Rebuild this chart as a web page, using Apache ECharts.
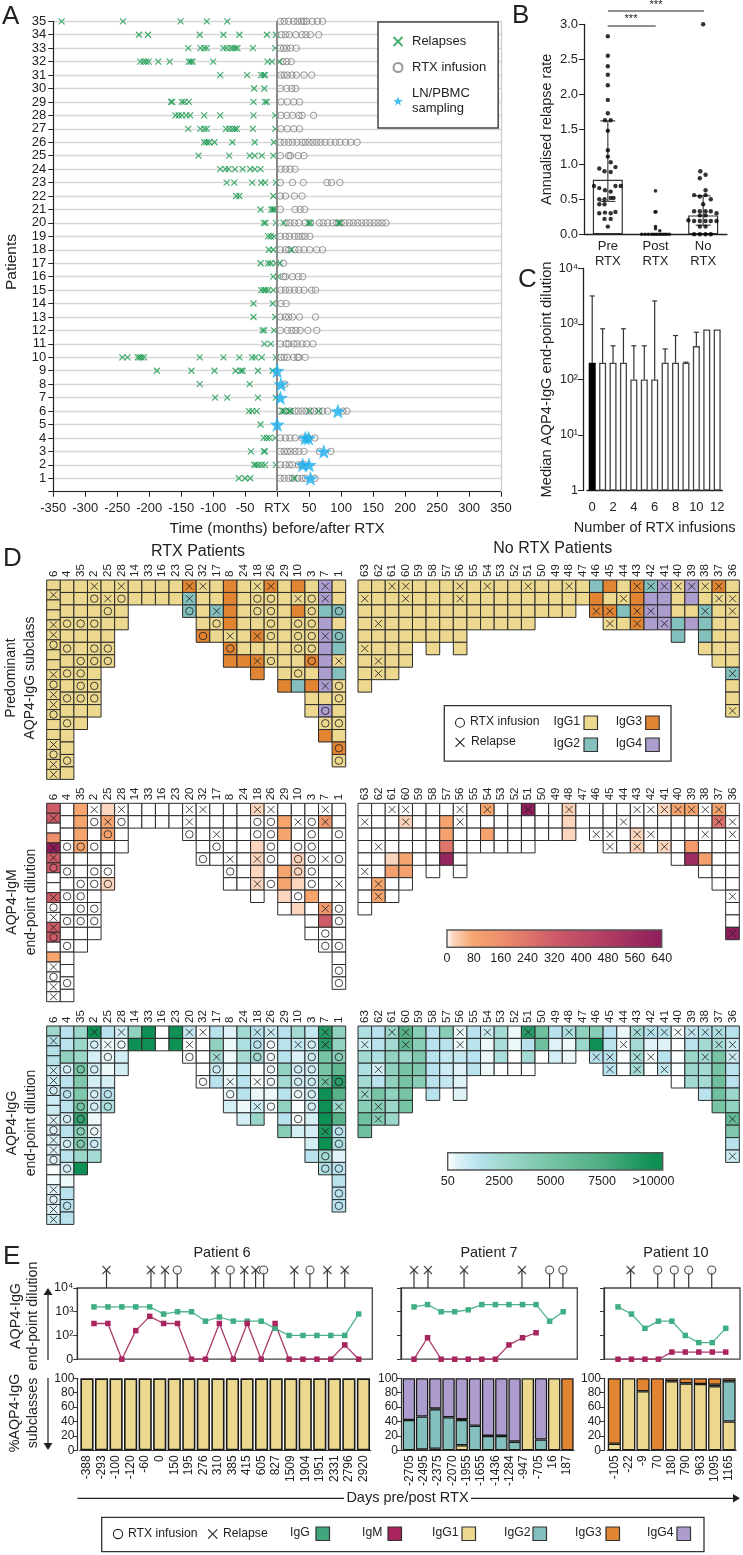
<!DOCTYPE html>
<html><head><meta charset="utf-8"><style>html,body{margin:0;padding:0;background:#fff}#c{width:743px;height:1555px}</style>
<script src="https://cdn.jsdelivr.net/npm/echarts@6/dist/echarts.min.js"></script></head><body><div id="c"></div>
<script>
// ---------- Panel A: patients 35 down to 1 ----------
const relapseMonths = [
[-337,-241,-151,-110,-78],[-216,-202,-121,-84,-59,-16,-2],[-139,-120,-114,-110,-84,-79,-73,-69,-65,-62,-38,-3],
[-214,-209,-205,-201,-186,-168,-138,-135,-132,-100,-15,-8,4],[-89,-47,-25,-21,-19],[-36,-20],
[-166,-164,-149,-145,-138,-37,-19,-16],[-159,-154,-149,-142,-136,-114,-89,-37,-3],[-139,-120,-114,-110,-80,-75,-70,-66,-63,-38,-3],
[-114,-110,-106,-98,-70,-35,-5],[-123,-75,-43,-35,-24,-6],[-89,-81,-76,-66,-54,-42,-35,-26],[-79,-67,-39,-25,-19,-2],
[-64,-59,-6],[-26,-9,-6,-4],[-21,-18,-2,10,49,52,96,98],[-14,-10,-5],[-13,-6,22],[-26,-14,-10,-2,4],[-6,1],
[-25,-21,-18,-14,-6],[-37,-7],[-37,-3],[-23,-20,-5],[-20,-10],[-242,-234,-218,-215,-212,-208,-121,-84,-59,-39,-34,-24,-2],
[-188,-134,-98,-65,-57,-54,-30,-7],[-121,-43],[-97,-78,-30,-2],[-44,-39,-32,8,11,19,21,50,65],[-26],[-21,-16,-12,-3],
[-41,-21,-19],[-36,-33,-29,-24,-19,-2],[-60,-50,-42,27]];
const infusionMonths = [
[5,11,18,26,32,38,42,46,55,63,71],[7,13,19,29,39,45,52,65],[5,10,15,21,30],[9,15,22],[6,11,16,23,30,42,54],[5,15,23,29],
[6,16,26,35],[6,15,24,34,39,57],[6,16,26,35],[5,11,18,24,31,39,44,50,56,62,68,75,83,91,98,107,115,125],[5,18,21,33,42],[6,13,20,28],
[5,24,41,78,85,98],[5,13,27,39],[5,28,36,43],[14,20,27,34,44,52,66,72,79,87,93,100,106,113,119,126,132,139,145,152,158,164,170],
[5,13,19,27,33,39,44,51],[5,13,18,28,34,42,51,62,71],[10],[10,13,24,33,40],[6,13,19,27,34,42,54,60],[6,14],[5,13,18,24,35,60],
[5,16,23,29,36,48,62],[5,14,18,26,31,39,46,56],[6,11,16,26,32,34,44],[],[12],[],
[4,13,20,28,33,39,45,52,58,65,71,79,103,109],[],[5,13,20,28,39,49,59],[5,11,16,21,28,34,42,66,84],[5,13,19,24,33,38,44],[5,11,18,24,32,39,44,59]];
const samplingPoints = [[0,9],[6,8],[5,7],[95,6],[0,5],[44,4],[49,4],[73,3],[40,2],[50,2],[52,1]];
// ---------- Panel B ----------
const groupLabels = ['Pre\nRTX','Post\nRTX','No\nRTX'];
const groupMeans = [0.78,0,0.27];
const groupErrors = [[0,0.47,1.62],[2,0.13,0.55]];
const preDots = [[0,2.83],[0,2.55],[0,2.40],[0,2.28],[0,2.13],[0,1.92],[0,1.73],[-.06,1.63],[.06,1.63],[0,1.48],[0,1.20],[0,1.11],[.06,1.03],[.16,.96],[-.18,.94],[-.07,.90],[.06,.89],[-.29,.69],[-.18,.66],[-.06,.63],[.06,.61],[.16,.69],[.27,.69],[-.18,.50],[-.07,.50],[.06,.52],[.12,.52],[-.18,.43],[-.07,.43],[-.18,.30],[-.06,.31],[.06,.30],[.16,.32],[-.07,.22],[.06,.22],[0,.11]];
const postDots = [[-.29,0],[-.22,0],[-.15,0],[-.08,0],[-.03,0],[.02,0],[.08,0],[.13,0],[.18,0],[.23,0],[.29,0],[0,.62],[-.01,.32],[.01,.32],[0,.11],[0,.08],[.09,.05]];
const noDots = [[0,3],[-.06,.90],[.05,.85],[-.07,.80],[.05,.63],[-.19,.56],[-.07,.54],[.05,.56],[.16,.50],[0,.43],[-.19,.33],[-.07,.33],[.05,.33],[.16,.33],[.28,.30],[-.07,.27],[.05,.27],[-.31,.20],[-.19,.19],[-.07,.19],[.05,.19],[.16,.19],[.28,.19],[-.07,.11],[.05,.11],[-.19,0],[-.07,0],[.05,0],[.16,0]];
// ---------- Panel C ----------
const infusionCounts = ['0','1','2','3','4','5','6','7','8','9','10','11','12'];
const medianDilution = [200,200,200,200,100,100,100,200,200,200,400,800,800];
const dilutionErrorTop = [3200,820,405,820,405,405,2600,355,620,205,710,null,null];
// ---------- Panel D ----------
const rtxPatients = ['6','4','35','2','25','28','14','33','16','23','20','32','17','8','24','18','26','29','10','3','7','1'];
const noRtxPatients = ['63','62','61','60','59','58','57','56','55','54','53','52','51','50','49','48','47','46','45','44','43','42','41','40','39','38','37','36'];
const rtxMarks = ['.x..xxo..xoxxo..xoxx','...o.o.o.o.o..o.','...o..oooo..','xo.o.oo.oo.','.xo..oo','xo..','..','..','..','..','xxo','x...o','..xo.','....xo.','.......','xoo.x.x.','xoooo.o','.........','.x.ooo.o.','.oooooo....','xx..x...x.oo.','..o.o.x.oo.o.oo'];
const noRtxMarks = ['.x...x...','...x..xx','x.......','xx.....','.....','......','.....','xx....','....','x...','....','....','x...','...','...','x..','..','..x','..xx','.x..','x.xx','x.x.','x..x','x....','x....','x.x...','xx.....','.xx....x..x'];
const n1 = (k)=>Array(k).fill(1);
const subclassRtx = [n1(20),n1(16),n1(12),n1(11),n1(7),n1(4),n1(2),n1(2),n1(2),n1(2),[3,2,2],[1,1,1,1,3],[1,1,2,1,1],[3,3,3,3,1,3,3],[1,1,1,1,1,1,3],[1,1,1,1,3,1,3,3],[3,1,1,1,1,1,1],[1,1,1,1,1,1,1,1,3],[3,1,3,1,1,1,1,1,2],[1,1,1,1,1,1,3,1,3,1,1],[4,4,2,4,4,4,4,4,4,1,4,1,3],[1,1,2,1,2,2,1,2,1,1,1,1,1,3,1]];
const subclassNoRtx = [n1(9),n1(8),n1(8),n1(7),n1(5),n1(6),n1(5),n1(6),n1(4),n1(4),n1(4),n1(4),n1(4),n1(3),n1(3),n1(3),n1(2),[2,3,3],[3,1,3,1],[1,1,2,1],[3,3,3,3],[2,4,4,4],[4,4,4,4],[1,1,1,2,2],[4,4,1,4],[1,1,2,2,2,1],[3,1,1,1,1,1,1],[1,1,1,1,1,1,1,2,1,1,1]];
const z = (k)=>Array(k).fill(0);
const igmRtx = [[320,320,0,160,640,320,320,0,0,320,0,0,320,320,0,80,0,0,0,0],z(16),[80,80,80,80,0,0,0,0,0,0,0,0],z(11),[20,80,90,0,0,0,20],z(4),z(2),z(2),z(2),z(2),z(3),z(5),z(5),z(7),z(7),[20,0,0,20,20,20,20,0],z(7),[0,80,80,0,0,80,80,20,0],[0,0,0,0,20,20,20,0,20],[0,0,0,0,0,0,0,80,0,0,0],[0,120,0,0,0,0,0,0,130,320,0,0],z(15)];
const igmNoRtx = [z(9),[0,0,0,0,0,0,80,80],[0,0,0,0,20,100,0,0],[0,20,0,0,80,100,0],z(5),z(6),[0,80,90,240,600],z(6),z(4),[80,0,90,0],z(4),z(4),[640,0,0,0],z(3),z(3),[25,20,20],z(2),z(3),z(4),z(4),[0,0,20,25],z(4),[20,0,0,20],[80,0,0,0,0],[80,0,0,120,560],[0,0,0,0,100,0],[80,250,0,0,0,0,0],[0,0,0,0,0,0,0,0,0,0,640]];
const iggRtx = [[2800,1800,1800,1800,1000,1000,1000,1000,1000,500,500,500,500,500,100,200,500,500,500,1000],[1500,1500,3500,800,1500,1500,1500,800,1500,800,1500,800,300,1500,1500,1500],[3000,3000,3000,5000,4500,4500,5000,8500,4000,4500,3000,10000],[10000,800,800,800,800,800,800,300,300,1000,2500],[1500,300,300,300,800,1500,2000],[800,300,800,800],[3500,10000],[10000,10000],[50,50],[10000,10000],[1200,50,50],[50,50,50,50,50],[1500,3500,2500,1000,1500],[500,300,300,300,300,300,800],[2500,2000,2500,1200,1500,1500,300,800],[1500,1500,2500,100,100,300,1000,3000],[1000,200,200,200,200,300,200],[1500,1500,1500,3500,2500,1500,3500,1500,4000],[2500,1200,600,800,800,300,100,100,800],[1200,800,1000,800,1000,800,800,800,800,800,1500],[9000,9000,5000,5000,5500,10000,10000,10000,9500,10000,2500,2000],[3500,3500,4000,6500,9000,7000,3000,7000,1500,2000,500,1500,1500,1500,1500]];
const iggNoRtx = [[2000,1000,2500,2000,2500,3000,4000,5500,5500],[1500,1500,2000,800,1500,5000,4000,4000],[3000,2500,3500,3500,3500,3500,3000,3000],[7000,6500,3000,5000,5000,5000,5000],[4000,4000,4500,4500,4000],[1500,1500,1500,1500,1500,1500],[4000,1500,1200,1000,1200],[300,300,1200,500,500,500],[1500,1500,1500,1500],[1000,300,300,300],[2500,2200,2200,50],[300,300,50,50],[9000,1500,2500,50],[5500,5500,50],[1500,500,800],[2000,300,300],[3500,3000],[4000,10000,1500],[1500,1500,1500,1500],[300,100,100,100],[2500,2500,2500,2500],[1500,500,100,100],[1500,500,1500,1200],[100,50,100,100,50],[1200,1500,3000,3000,2500],[1500,2500,2500,2500,2500,1500],[2000,2500,5000,5000,5500,5500,5000],[1500,1000,1000,1500,1500,3000,3500,6000,4500,1500,1000]];
const igmStops = [[0,'#ffffff'],[20,'#fbd5bd'],[80,'#f6a56f'],[160,'#ee8f6c'],[320,'#cd5b68'],[640,'#8f1d5c']];
const iggStops = [[50,'#ffffff'],[500,'#dff2f8'],[1500,'#b8e3ee'],[2500,'#a3dad3'],[5000,'#76c4a4'],[7500,'#4fae84'],[10000,'#0e8f53']];
const igmBarTicks = 80, iggBarTicks = 2500;
// ---------- Panel E ----------
const p6Days = ['-388','-293','-100','-120','-60','0','150','195','276','310','385','415','605','827','1509','1904','1951','2331','2796','2920'];
const p6IgG = [1600,1600,1600,1600,1600,800,1000,1000,400,600,400,400,400,200,100,100,100,100,100,800];
const p6IgM = [320,320,0,160,640,320,320,0,0,320,0,320,0,320,0,0,0,0,40,0];
const p6Relapse = [0.9,4.09,5.1,8.7,10.79,11.6,14.38,16.75,18];
const p6Rtx = [5.98,9.78,12.18,15.5];
const p7Days = ['-2705','-2495','-2375','-2070','-1955','-1655','-1436','-1284','-947','-705','16','187'];
const p7IgG = [1600,2000,1000,1000,1200,2000,2000,2000,2000,2000,400,1000];
const p7IgM = [0,80,0,0,0,0,0,40,80,130,null,null];
const p7Relapse = [0,1.03,3.69,7.96];
const p7Rtx = [10,10.98];
const p7G1 = [0,1,2,0,7,0,0,0,0,100,0,100,0];
const p7G2 = [42,46,55,46,35,34,20,20,12,0,15,0,0];
const p7G3 = [0,0,1,0,1,0,0,0,0,0,0,0,100];
const p7G4 = [58,53,42,54,57,66,80,80,88,0,85,0,0];
const p10Days = ['-105','-22','-9','70','180','790','963','1095','1165'];
const p10IgG = [1600,800,200,400,400,100,50,50,200];
const p10IgM = [0,0,0,0,20,20,20,20,20];
const p10Relapse = [0.94];
const p10Rtx = [2.95,4.18,5.25,6.96];
const p10G1 = [9,100,82,0,96,93,92,89,40];
const p10G2 = [0,0,0,0,0,0,0,2,56];
const p10G3 = [91,0,18,100,4,7,8,9,4];
const p10G4 = [0,0,0,0,0,0,0,0,0];
const p6G1 = Array(20).fill(100);

// ---------- helpers ----------
const FONT='Liberation Sans', INK='#222';
const SUB={1:'#ecd98f',2:'#84c0bd',3:'#e28533',4:'#ad9dcf'};
const XP='path://M0,0L10,10M10,0L0,10';
const STAR='path://M12,0L15,8.5L24,9L17,14.5L19.5,23L12,18L4.5,23L7,14.5L0,9L9,8.5Z';
const G=[],X=[],Y=[],S=[],GR=[];
function grid(l,t,w,h,extra){G.push(Object.assign({left:l,top:t,width:w,height:h},extra||{}));return G.length-1;}
function xa(o){X.push(o);return X.length-1;}
function ya(o){Y.push(o);return Y.length-1;}
const labelBase=(s)=>({color:INK,fontSize:s,fontFamily:FONT});
function colorAt(stops,v){
  if(v<=stops[0][0])return stops[0][1];
  for(let i=1;i<stops.length;i++){if(v<=stops[i][0]){
    return echarts.color.lerp((v-stops[i-1][0])/(stops[i][0]-stops[i-1][0]),[stops[i-1][1],stops[i][1]]);}}
  return stops[stops.length-1][1];
}
function txt(x,y,t,size,o){o=o||{};GR.push({type:'text',x,y,rotation:o.rot?Math.PI/2:0,z:100,style:{text:t,fontSize:size,fontFamily:FONT,fill:INK,textAlign:o.align||'center',textVerticalAlign:'middle'}});}
function ln(x1,y1,x2,y2,w,c){GR.push({type:'line',z:100,shape:{x1,y1,x2,y2},style:{stroke:c||'#222',lineWidth:w||1.2}});}
function box(x,y,w,h,fill,stroke,lw){GR.push({type:'rect',z:100,shape:{x,y,width:w,height:h},style:{fill:fill||'transparent',stroke:stroke||'#333',lineWidth:lw||1.5}});}
function ringIcon(x,y,r){GR.push({type:'circle',z:100,shape:{cx:x,cy:y,r},style:{fill:'transparent',stroke:'#222',lineWidth:1.1}});}
function crossIcon(x,y,r){ln(x-r,y-r,x+r,y+r,1.1);ln(x-r,y+r,x+r,y-r,1.1);}
function head(x,y,up){GR.push({type:'polygon',z:100,shape:{points:up?[[x,y],[x-4.5,y+7],[x+4.5,y+7]]:[[x,y],[x-4.5,y-7],[x+4.5,y-7]]},style:{fill:'#222'}});}

// ---------- Panel A ----------
(function(){
  const g=grid(53.3,21.3,447.7,470.4);
  const x=xa({gridIndex:g,type:'value',min:-350,max:350,interval:50,splitLine:{show:false},axisLine:{onZero:false,lineStyle:{color:'#222',width:1.2}},axisTick:{length:5,lineStyle:{color:'#222'}},
    axisLabel:Object.assign(labelBase(13),{margin:10,hideOverlap:false,formatter:v=>v===0?'RTX':v}),
    name:'Time (months) before/after RTX',nameLocation:'middle',nameGap:30,nameTextStyle:labelBase(15.3)});
  const y=ya({gridIndex:g,type:'value',min:0,max:35,interval:1,splitLine:{show:true,lineStyle:{color:'#d6d6d6',width:1.4}},axisLine:{onZero:false,lineStyle:{color:'#222',width:1.2}},axisTick:{length:5,lineStyle:{color:'#222'}},
    axisLabel:Object.assign(labelBase(13),{margin:7,formatter:v=>v===0?'':v})});
  txt(12,262,'Patients',15.5,{rot:1});
  const toPts=(rows)=>rows.flatMap((r,i)=>r.map(m=>[m,35-i]));
  S.push({name:'RTX infusion',type:'scatter',xAxisIndex:x,yAxisIndex:y,data:toPts(infusionMonths),symbol:'circle',symbolSize:6.5,z:3,itemStyle:{color:'rgba(255,255,255,0)',borderColor:'#808080',borderWidth:1},
    markLine:{silent:true,symbol:'none',animation:false,label:{show:false},data:[{xAxis:0,lineStyle:{color:'#8a8a8a',width:2,type:'solid'}},{xAxis:350,lineStyle:{color:'#d0d0d0',width:1.4,type:'solid'}}]}});
  S.push({name:'Relapses',type:'scatter',xAxisIndex:x,yAxisIndex:y,data:toPts(relapseMonths),symbol:XP,symbolSize:6,z:4,itemStyle:{color:'none',borderColor:'#179a4e',borderWidth:1.2}});
  S.push({name:'LN/PBMC\nsampling',type:'scatter',xAxisIndex:x,yAxisIndex:y,data:samplingPoints,symbol:STAR,symbolSize:15,z:5,itemStyle:{color:'#1ab0ee'}});
})();

// ---------- Panel B ----------
(function(){
  const g=grid(584,24.3,143,210);
  const x=xa({gridIndex:g,type:'category',data:groupLabels,axisLine:{onZero:false,lineStyle:{color:'#222',width:1.3}},axisTick:{show:false},axisLabel:Object.assign(labelBase(13),{margin:5,lineHeight:15,interval:0})});
  const x2=xa({gridIndex:g,type:'value',min:-0.5,max:2.5,show:false});
  const y=ya({gridIndex:g,type:'value',min:0,max:3,interval:0.5,splitLine:{show:false},axisLine:{show:true,onZero:false,lineStyle:{color:'#222',width:1.3}},axisTick:{show:true,length:5,lineStyle:{color:'#222'}},
    axisLabel:Object.assign(labelBase(13),{margin:6,formatter:v=>v.toFixed(1)}),name:'Annualised relapse rate',nameLocation:'middle',nameGap:30,nameRotate:90,nameTextStyle:labelBase(14.4)});
  S.push({type:'bar',xAxisIndex:x,yAxisIndex:y,data:groupMeans,barWidth:30,itemStyle:{color:'#fff',borderColor:'#333',borderWidth:1.2},z:2});
  S.push({type:'custom',xAxisIndex:x,yAxisIndex:y,data:groupErrors,encode:{x:0,y:[1,2]},z:3,renderItem:(p,api)=>{
    const a=api.coord([api.value(0),api.value(1)]),b=api.coord([api.value(0),api.value(2)]),st={stroke:'#444',lineWidth:1.2};
    return {type:'group',children:[{type:'line',shape:{x1:a[0],y1:a[1],x2:b[0],y2:b[1]},style:st},{type:'line',shape:{x1:a[0]-7.5,y1:a[1],x2:a[0]+7.5,y2:a[1]},style:st},{type:'line',shape:{x1:b[0]-7.5,y1:b[1],x2:b[0]+7.5,y2:b[1]},style:st}]};}});
  [[preDots,0,4.4],[postDots,1,3.6],[noDots,2,4.4]].forEach(([d,c,s])=>{
    S.push({type:'scatter',xAxisIndex:x2,yAxisIndex:y,data:d.map(p=>[c+p[0],p[1]]),symbolSize:s,clip:false,z:4,itemStyle:{color:'#000'}});});
  ln(607.7,26,655.7,26,1); ln(608,11,704,11,1);
  txt(631,19,'***',11); txt(656,4.5,'***',11);
})();

// ---------- Panel C ----------
(function(){
  const g=grid(587,268.5,135.4,222);
  const x=xa({gridIndex:g,type:'category',data:infusionCounts,axisLine:{onZero:false,lineStyle:{color:'#222',width:1.3}},axisTick:{alignWithLabel:true,length:4,lineStyle:{color:'#222'}},
    axisLabel:Object.assign(labelBase(13),{margin:10,interval:1}),name:'Number of RTX infusions',nameLocation:'middle',nameGap:30,nameTextStyle:labelBase(14.5)});
  const y=ya({gridIndex:g,type:'log',logBase:10,min:1,max:10000,offset:4,splitLine:{show:false},axisLine:{show:true,onZero:false,lineStyle:{color:'#222',width:1.3}},axisTick:{show:true,length:5,lineStyle:{color:'#222'}},minorTick:{show:false},
    axisLabel:Object.assign(labelBase(12.5),{margin:5,formatter:v=>({1:'1',10:'10¹',100:'10²',1000:'10³',10000:'10⁴'})[v]}),name:'Median AQP4-IgG end-point dilution',nameLocation:'middle',nameGap:29,nameRotate:90,nameTextStyle:labelBase(14.7)});
  S.push({type:'bar',xAxisIndex:x,yAxisIndex:y,data:medianDilution.map((v,i)=>i===0?{value:v,itemStyle:{color:'#000',borderColor:'#000'}}:v),barWidth:7,itemStyle:{color:'#fff',borderColor:'#444',borderWidth:1.3},z:3});
  S.push({type:'custom',xAxisIndex:x,yAxisIndex:y,data:dilutionErrorTop.map((v,i)=>v?[i,medianDilution[i],v]:null).filter(Boolean),encode:{x:0,y:[1,2]},z:2,renderItem:(p,api)=>{
    const a=api.coord([api.value(0),api.value(1)]),b=api.coord([api.value(0),api.value(2)]),st={stroke:'#333',lineWidth:1.2};
    return {type:'group',children:[{type:'line',shape:{x1:a[0],y1:a[1],x2:b[0],y2:b[1]},style:st},{type:'line',shape:{x1:b[0]-2.5,y1:b[1],x2:b[0]+2.5,y2:b[1]},style:st}]};}});
})();

// ---------- Panel D ----------
const ROWS=16;
function heat(left,top,width,rowH,names,values,marks,fillOf){
  const g=grid(left,top,width,rowH*ROWS);
  const x=xa({gridIndex:g,type:'category',position:'top',data:names,axisLine:{show:false},axisTick:{show:false},axisLabel:Object.assign(labelBase(11.5),{rotate:90,margin:3,interval:0})});
  const y=ya({gridIndex:g,type:'value',min:0,max:ROWS,inverse:true,show:false});
  const cells=[],rtx=[],rel=[];
  values.forEach((col,c)=>{const h=Math.min(1,ROWS/col.length);
    col.forEach((v,r)=>cells.push([c,r*h,(r+1)*h,v]));
    (marks[c]||'').split('').forEach((m,r)=>{if(m==='o')rtx.push([c,(r+.5)*h]);if(m==='x')rel.push([c,(r+.5)*h]);});});
  S.push({type:'custom',xAxisIndex:x,yAxisIndex:y,data:cells,encode:{x:0,y:[1,2]},z:2,renderItem:(p,api)=>{
    const a=api.coord([api.value(0),api.value(1)]),b=api.coord([api.value(0),api.value(2)]),w=api.size([1,0])[0];
    return {type:'rect',shape:{x:a[0]-w/2,y:a[1],width:w,height:b[1]-a[1]},style:{fill:fillOf(api.value(3)),stroke:'#2b2b2b',lineWidth:1}};}});
  S.push({type:'scatter',xAxisIndex:x,yAxisIndex:y,data:rtx,symbol:'circle',symbolSize:7.5,z:4,itemStyle:{color:'none',borderColor:'#1c1c1c',borderWidth:1}});
  S.push({type:'scatter',xAxisIndex:x,yAxisIndex:y,data:rel,symbol:XP,symbolSize:7,z:4,itemStyle:{color:'none',borderColor:'#1c1c1c',borderWidth:1}});
}
const L=46.7,LW=299,R=358,RW=381.3;
heat(L,580,LW,12.46,rtxPatients,subclassRtx,rtxMarks,v=>SUB[v]);
heat(R,580,RW,12.46,noRtxPatients,subclassNoRtx,noRtxMarks,v=>SUB[v]);
heat(L,803.3,LW,12.4,rtxPatients,igmRtx,rtxMarks,v=>colorAt(igmStops,v));
heat(R,803.3,RW,12.4,noRtxPatients,igmNoRtx,noRtxMarks,v=>colorAt(igmStops,v));
heat(L,1026,LW,12.4,rtxPatients,iggRtx,rtxMarks,v=>colorAt(iggStops,v));
heat(R,1026,RW,12.4,noRtxPatients,iggNoRtx,noRtxMarks,v=>colorAt(iggStops,v));
function colorbar(l,t,w,h,maxV,step,stops,fmt,toX){
  const g=grid(l,t,w,h);
  const tick={show:true,inside:true,length:4,lineStyle:{color:'#222'}};
  const x=xa({gridIndex:g,type:'value',min:0,max:maxV,interval:step,splitLine:{show:false},axisLine:{show:false},axisTick:tick,axisLabel:Object.assign(labelBase(12.5),{margin:5,formatter:fmt,showMaxLabel:maxV%step===0,hideOverlap:false})});
  xa({gridIndex:g,type:'value',position:'top',min:0,max:maxV,interval:step,splitLine:{show:false},axisLine:{show:false},axisTick:tick,axisLabel:{show:false}});
  const y=ya({gridIndex:g,type:'value',min:0,max:1,show:false});
  S.push({type:'custom',xAxisIndex:x,yAxisIndex:y,data:[[0,maxV]],encode:{x:[0,1]},z:1,renderItem:(p,api)=>{
    const a=api.coord([0,1]),b=api.coord([maxV,0]);
    return {type:'rect',shape:{x:a[0],y:a[1],width:b[0]-a[0],height:b[1]-a[1]},style:{stroke:'#555',lineWidth:1.4,fill:new echarts.graphic.LinearGradient(0,0,1,0,stops.map(s=>({offset:toX(s[0]),color:s[1]})))}};}});
}
colorbar(447,930,214.7,17.3,640,igmBarTicks,igmStops,v=>String(v),v=>v/640);
colorbar(447.7,1152.7,215,17.3,10450,iggBarTicks,iggStops,v=>v===0?'50':v===10000?'>10000':String(v),v=>v/10450);
txt(198,551.7,'RTX Patients',16); txt(552.7,549,'No RTX Patients',16);
txt(11,678,'Predominant',14,{rot:1}); txt(30,678,'AQP4-IgG subclass',14,{rot:1});
txt(12,902,'AQP4-IgM',14,{rot:1}); txt(31,902,'end-point dilution',14,{rot:1});
txt(12,1123,'AQP4-IgG',14,{rot:1}); txt(31,1123,'end-point dilution',14,{rot:1});
box(444.3,705.7,226.7,55.5,'#fff','#333',1.3);
ringIcon(460,722.7,4.5); txt(470,722,'RTX infusion',12.2,{align:'left'});
crossIcon(460,742.3,4.5); txt(471,742,'Relapse',12.2,{align:'left'});
txt(553.5,722,'IgG1',12.2,{align:'left'}); box(584,716,13.5,13.5,SUB[1],'#333',1.2);
txt(553.5,744,'IgG2',12.2,{align:'left'}); box(584,738,13.5,13.5,SUB[2],'#333',1.2);
txt(615.7,722,'IgG3',12.2,{align:'left'}); box(645.7,716,13.5,13.5,SUB[3],'#333',1.2);
txt(615.7,744,'IgG4',12.2,{align:'left'}); box(645.7,738,13.5,13.5,SUB[4],'#333',1.2);

// ---------- Panel E ----------
const toLevel=v=>v==null?null:(v<=0?0:Math.log10(v)-1);
function patient(o){
  const gs=grid(o.left,1270,o.w,17.9);
  const xs=xa({gridIndex:gs,type:'value',min:o.xmin,max:o.xmax,show:false});
  const ys=ya({gridIndex:gs,type:'value',min:0,max:1,show:false});
  S.push({type:'custom',xAxisIndex:xs,yAxisIndex:ys,data:o.rel.concat(o.rtx).map(v=>[v,0,1]),encode:{x:0,y:[1,2]},z:2,renderItem:(p,api)=>{
    const a=api.coord([api.value(0),0]),b=api.coord([api.value(0),1]);
    return {type:'line',shape:{x1:a[0],y1:a[1],x2:b[0],y2:b[1]},style:{stroke:'#333',lineWidth:1.2}};}});
  S.push({type:'scatter',xAxisIndex:xs,yAxisIndex:ys,clip:false,data:o.rel.map(v=>[v,1]),symbol:XP,symbolSize:8,z:3,itemStyle:{color:'none',borderColor:'#1c1c1c',borderWidth:1.1}});
  S.push({type:'scatter',xAxisIndex:xs,yAxisIndex:ys,clip:false,data:o.rtx.map(v=>[v,1]),symbol:'circle',symbolSize:8,z:3,itemStyle:{color:'#fff',borderColor:'#1c1c1c',borderWidth:1.1}});
  const g=grid(o.left,1288,o.w,71.2,{show:true,borderColor:'#444',borderWidth:1.3,backgroundColor:'transparent'});
  const x=xa({gridIndex:g,type:'value',min:o.xmin,max:o.xmax,show:false});
  const y=ya({gridIndex:g,type:'value',min:0,max:3,interval:1,splitLine:{show:false},axisLine:{show:true,onZero:false,lineStyle:{color:'#333',width:1.2}},axisTick:{show:true,length:4,lineStyle:{color:'#333'}},
    axisLabel:Object.assign(labelBase(12.5),{show:o.showY,margin:4,formatter:v=>['0','10²','10³','10⁴'][v]})});
  S.push({type:'line',xAxisIndex:x,yAxisIndex:y,data:o.igg.map((v,i)=>[i,toLevel(v)]),symbol:'rect',symbolSize:5.5,clip:false,lineStyle:{color:'#4fb48b',width:1.3},itemStyle:{color:'#3fae82'},z:3});
  S.push({type:'line',xAxisIndex:x,yAxisIndex:y,data:o.igm.map((v,i)=>[i,toLevel(v)]),symbol:'rect',symbolSize:5.5,clip:false,connectNulls:false,lineStyle:{color:'#ab3a6b',width:1.3},itemStyle:{color:'#a8255f'},z:3});
  const gb=grid(o.barLeft,1378.3,o.barW,72);
  const bandsSame=o.bars[0].length===o.days.length;
  const xb=xa({gridIndex:gb,type:'category',data:o.days,axisLine:{onZero:false,lineStyle:{color:'#333',width:1.2}},axisTick:{alignWithLabel:true,length:4,lineStyle:{color:'#333'}},axisLabel:Object.assign(labelBase(12),{rotate:90,margin:5,interval:0})});
  const xh=bandsSame?xb:xa({gridIndex:gb,type:'category',data:o.bars[0].map((_,i)=>String(i)),show:false});
  const yb=ya({gridIndex:gb,type:'value',min:0,max:100,interval:20,offset:o.yOffset,splitLine:{show:false},axisLine:{show:true,onZero:false,lineStyle:{color:'#333',width:1.2}},axisTick:{show:true,length:4,lineStyle:{color:'#333'}},axisLabel:Object.assign(labelBase(12),{margin:3})});
  o.bars.forEach((vals,k)=>{
    S.push({type:'bar',stack:'sub'+gb,xAxisIndex:xh,yAxisIndex:yb,data:vals.map(v=>v||null),barWidth:o.barPx,itemStyle:{color:SUB[k+1],borderColor:'#1a1a1a',borderWidth:o.barEdge},z:2});});
}
patient({left:77.3,w:295,xmin:-1.196,xmax:19.976,igg:p6IgG,igm:p6IgM,rel:p6Relapse,rtx:p6Rtx,showY:true,barLeft:79.7,barW:291,days:p6Days,bars:[p6G1],barPx:13.2,barEdge:1.6,yOffset:2.4});
patient({left:401,w:176.3,xmin:-0.958,xmax:12.04,igg:p7IgG,igm:p7IgM,rel:p7Relapse,rtx:p7Rtx,showY:false,barLeft:402.3,barW:171.7,days:p7Days,bars:[p7G1,p7G2,p7G3,p7G4],barPx:12.4,barEdge:1.3,yOffset:1.3});
patient({left:604,w:136,xmin:-1.04,xmax:9.06,igg:p10IgG,igm:p10IgM,rel:p10Relapse,rtx:p10Rtx,showY:false,barLeft:607.2,barW:129,days:p10Days,bars:[p10G1,p10G2,p10G3,p10G4],barPx:13.2,barEdge:1.3,yOffset:3.2});
txt(222,1253,'Patient 6',14.5); txt(489,1253,'Patient 7',14.5); txt(676,1253,'Patient 10',14.5);
txt(16,1316,'AQP4-IgG',14.3,{rot:1}); txt(33,1316,'end-point dilution',14.3,{rot:1});
txt(15,1413,'%AQP4-IgG',14.3,{rot:1}); txt(33,1413,'subclasses',14.3,{rot:1});
ln(48,1295,48,1360,1.2); head(48,1288,true); ln(48,1378,48,1443,1.2); head(48,1450,false);
ln(77.5,1498.3,344,1498.3,1.2); txt(407.5,1498.3,'Days pre/post RTX',14.5); ln(471,1498.3,733,1498.3,1.2);
GR.push({type:'polygon',z:100,shape:{points:[[740,1498.3],[733,1494],[733,1502.6]]},style:{fill:'#222'}});
box(101.7,1517.3,602.3,34.4,'#fff','#333',1.3);
ringIcon(118,1534,4.6); txt(128,1534,'RTX infusion',12.2,{align:'left'});
crossIcon(212.7,1534,4.6); txt(223,1534,'Relapse',12.2,{align:'left'});
txt(290,1533,'IgG',12.2,{align:'left'}); box(316,1527,13.5,13.5,'#3fa67d','#333',1.2);
txt(362,1533,'IgM',12.2,{align:'left'}); box(388,1527,13.5,13.5,'#a8255f','#333',1.2);
txt(432,1533,'IgG1',12.2,{align:'left'}); box(462,1527,13.5,13.5,SUB[1],'#333',1.2);
txt(504,1533,'IgG2',12.2,{align:'left'}); box(533,1527,13.5,13.5,SUB[2],'#333',1.2);
txt(575,1533,'IgG3',12.2,{align:'left'}); box(606,1527,13.5,13.5,SUB[3],'#333',1.2);
txt(647,1533,'IgG4',12.2,{align:'left'}); box(677,1527,13.5,13.5,SUB[4],'#333',1.2);
[['A',2,17],['B',512,16],['C',518,280],['D',3,559],['E',3,1257]].forEach(([t,x,y])=>txt(x,y,t,26,{align:'left'}));

const chart=echarts.init(document.getElementById('c'),null,{width:743,height:1555});
chart.setOption({animation:false,backgroundColor:'#fff',textStyle:{fontFamily:FONT},grid:G,xAxis:X,yAxis:Y,series:S,graphic:GR,
 legend:{show:true,orient:'vertical',left:378,top:22,width:122,padding:[12,12,12,13],itemGap:11,itemWidth:18,itemHeight:9,borderColor:'#444',borderWidth:1.5,backgroundColor:'#fff',
  data:['Relapses','RTX infusion','LN/PBMC\nsampling'],textStyle:{color:INK,fontSize:13,fontFamily:FONT,lineHeight:15},selectedMode:false}});
</script></body></html>
